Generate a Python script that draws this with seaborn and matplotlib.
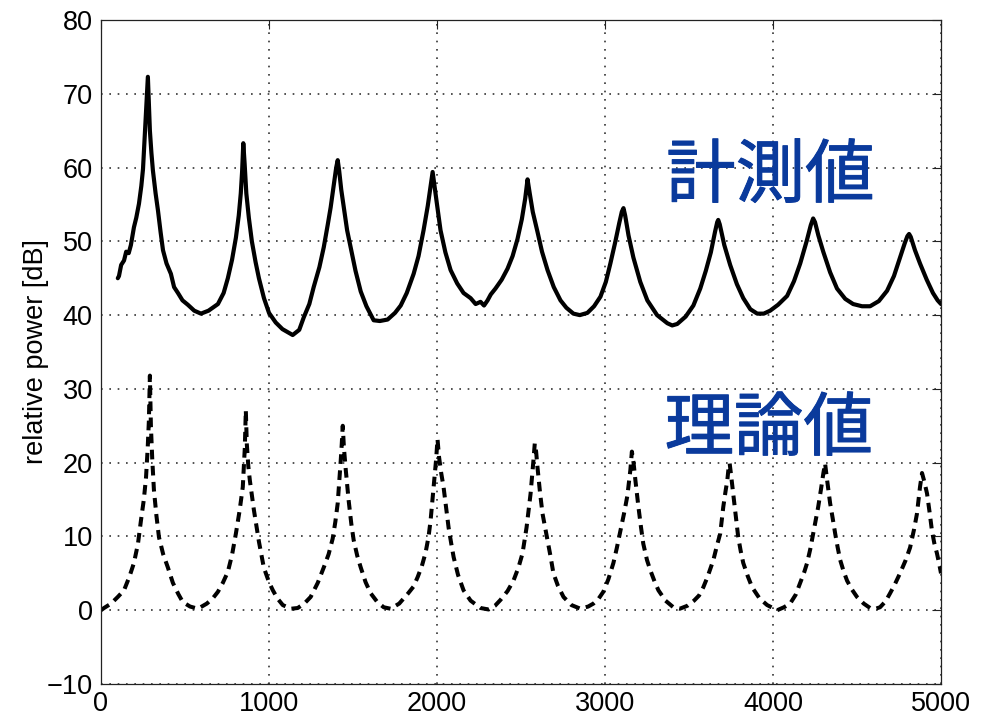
import matplotlib
matplotlib.use("Agg")
import matplotlib.pyplot as plt
import matplotlib.patheffects as pe
import seaborn as sns
import pandas as pd

# ---- data ----
meas_x = [100, 107, 120, 137, 150, 165, 178, 196, 210, 226, 240, 250, 262, 272, 279, 285, 291, 300, 309, 325,
          339, 355, 369, 390, 416, 435, 458, 485, 517, 555, 595, 640, 696, 730, 755, 780, 803, 820, 832, 840,
          847, 855, 865, 880, 898, 920, 940, 970, 1000, 1040, 1080, 1141, 1180, 1207, 1240, 1266, 1300, 1326,
          1350, 1367, 1385, 1400, 1409, 1418, 1430, 1445, 1465, 1486, 1515, 1546, 1580, 1623, 1660, 1706, 1750,
          1784, 1820, 1861, 1890, 1920, 1945, 1962, 1974, 1985, 2000, 2021, 2050, 2081, 2120, 2158, 2200, 2230,
          2259, 2280, 2301, 2320, 2348, 2385, 2420, 2450, 2479, 2505, 2525, 2539, 2552, 2570, 2598, 2625, 2658,
          2695, 2735, 2770, 2812, 2850, 2895, 2935, 2973, 3005, 3032, 3060, 3085, 3100, 3110, 3120, 3140, 3169,
          3210, 3252, 3310, 3371, 3400, 3430, 3480, 3526, 3567, 3600, 3630, 3655, 3668, 3674, 3683, 3710, 3745,
          3785, 3823, 3865, 3906, 3945, 3983, 4030, 4084, 4125, 4162, 4200, 4225, 4239, 4250, 4270, 4299, 4340,
          4381, 4430, 4477, 4530, 4578, 4630, 4679, 4720, 4756, 4785, 4800, 4810, 4820, 4845, 4875, 4915, 4952,
          4980, 5000]
meas_y = [45.0, 45.3, 46.8, 47.4, 48.6, 48.4, 49.5, 51.9, 53.2, 55.1, 57.5, 59.8, 65.0, 69.5, 72.3, 68.5, 65.0,
          62.0, 59.6, 56.5, 54.2, 51.2, 48.8, 47.0, 45.6, 43.8, 43.0, 42.0, 41.4, 40.6, 40.2, 40.6, 41.5, 43.0,
          45.0, 47.5, 50.5, 53.5, 56.5, 59.5, 63.3, 60.5, 56.5, 53.2, 50.0, 47.2, 45.0, 42.3, 40.3, 39.0, 38.1,
          37.3, 38.0, 39.7, 41.5, 43.8, 46.5, 49.2, 52.3, 54.6, 57.5, 60.0, 61.0, 59.5, 57.0, 54.6, 51.5, 49.2,
          46.0, 43.2, 41.2, 39.3, 39.2, 39.4, 40.3, 41.3, 43.0, 45.6, 48.0, 51.5, 54.8, 57.5, 59.4, 57.5, 55.0,
          51.5, 48.5, 46.1, 44.3, 43.0, 42.3, 41.5, 41.8, 41.3, 42.0, 42.8, 43.6, 44.8, 46.3, 48.0, 50.3, 53.0,
          55.8, 58.4, 56.5, 54.0, 51.3, 48.6, 46.1, 43.8, 42.0, 41.0, 40.2, 40.0, 40.3, 41.2, 42.5, 44.5, 47.0,
          49.8, 52.5, 54.0, 54.5, 53.5, 50.8, 47.8, 44.5, 42.0, 40.0, 38.9, 38.6, 38.8, 39.8, 41.3, 43.6, 46.0,
          48.5, 51.3, 52.6, 52.9, 52.3, 49.5, 46.8, 44.2, 42.3, 40.8, 40.2, 40.2, 40.6, 41.4, 42.6, 44.6, 47.0,
          50.0, 52.2, 53.1, 52.6, 50.8, 48.6, 45.8, 43.6, 42.2, 41.5, 41.2, 41.2, 41.9, 43.3, 45.3, 47.8, 49.8,
          50.7, 51.0, 50.6, 48.8, 47.0, 44.8, 43.0, 42.0, 41.5]

theo_x = [0, 18, 60, 100, 137, 170, 196, 220, 238, 255, 268, 278, 285, 291, 297, 305, 315, 330, 345, 370, 398,
          428, 460, 487, 530, 577, 630, 665, 696, 725, 755, 780, 803, 825, 844, 856, 862, 868, 877, 886, 910,
          940, 969, 1000, 1023, 1050, 1082, 1130, 1171, 1210, 1248, 1290, 1326, 1355, 1379, 1395, 1409, 1427,
          1433, 1439, 1446, 1457, 1474, 1490, 1504, 1525, 1546, 1575, 1605, 1645, 1683, 1724, 1775, 1825, 1860,
          1885, 1910, 1932, 1950, 1962, 1980, 1995, 2003, 2012, 2025, 2039, 2055, 2069, 2085, 2099, 2125, 2158,
          2200, 2259, 2307, 2345, 2378, 2420, 2455, 2485, 2509, 2533, 2557, 2574, 2582, 2590, 2598, 2613, 2628,
          2658, 2675, 2693, 2720, 2753, 2800, 2854, 2900, 2931, 2960, 2990, 3020, 3050, 3070, 3092, 3115, 3133,
          3151, 3160, 3170, 3181, 3199, 3214, 3228, 3250, 3270, 3295, 3318, 3360, 3407, 3445, 3490, 3530, 3560,
          3585, 3610, 3645, 3668, 3686, 3704, 3718, 3728, 3736, 3742, 3750, 3763, 3778, 3793, 3808, 3823, 3850,
          3876, 3920, 3965, 4025, 4065, 4102, 4135, 4162, 4185, 4203, 4222, 4239, 4255, 4269, 4285, 4300, 4310,
          4320, 4330, 4340, 4355, 4370, 4385, 4400, 4420, 4441, 4470, 4500, 4540, 4578, 4610, 4637, 4670, 4697,
          4725, 4756, 4790, 4816, 4840, 4857, 4875, 4887, 4900, 4917, 4932, 4946, 4960, 4976, 4990, 5000]
theo_y = [0.0, 0.3, 0.9, 1.8, 2.7, 4.6, 6.4, 9.0, 12.2, 15.0, 18.0, 22.0, 25.7, 31.8, 25.0, 20.5, 16.3, 12.8,
          9.9, 7.6, 5.8, 3.7, 2.2, 1.1, 0.5, 0.2, 0.9, 1.6, 2.5, 3.7, 5.2, 7.5, 10.4, 13.5, 16.7, 22.0, 27.1,
          22.5, 19.5, 17.6, 13.6, 9.3, 5.8, 3.8, 2.7, 1.6, 0.7, 0.2, 0.3, 0.9, 1.8, 3.7, 5.8, 7.6, 9.7, 12.0,
          14.5, 20.3, 22.5, 25.0, 22.0, 19.0, 14.9, 11.7, 9.5, 7.4, 5.8, 3.8, 2.3, 1.1, 0.4, 0.2, 0.9, 2.2, 3.2,
          4.5, 6.0, 7.8, 10.0, 12.2, 16.7, 20.5, 23.2, 20.8, 18.6, 16.7, 13.8, 11.2, 9.0, 7.2, 4.8, 2.7, 1.3,
          0.3, 0.1, 0.6, 1.4, 2.6, 4.0, 5.8, 7.7, 11.2, 15.8, 20.3, 22.6, 21.5, 19.4, 16.0, 13.1, 9.5, 7.4, 5.0,
          3.3, 1.8, 0.7, 0.2, 0.5, 0.9, 1.5, 2.5, 4.2, 6.4, 8.4, 10.8, 13.3, 15.5, 19.0, 21.5, 20.0, 17.6, 14.0,
          11.3, 9.0, 6.8, 5.4, 3.9, 2.7, 1.3, 0.4, 0.2, 0.6, 1.3, 2.0, 3.1, 4.5, 6.8, 8.9, 10.4, 14.0, 16.2,
          17.6, 19.4, 19.9, 18.4, 15.8, 12.7, 9.9, 8.0, 6.4, 4.6, 3.1, 1.6, 0.7, 0.0, 0.4, 0.9, 2.1, 3.7, 5.1,
          6.4, 8.3, 10.4, 12.3, 14.0, 16.3, 18.6, 19.9, 18.0, 16.3, 14.5, 12.5, 10.4, 8.5, 6.8, 5.3, 4.0, 2.8,
          1.8, 0.9, 0.3, 0.2, 0.4, 1.2, 2.3, 3.5, 5.0, 6.8, 8.5, 11.0, 13.1, 16.7, 18.6, 17.5, 15.8, 13.3, 10.8,
          9.1, 7.7, 6.2, 5.0]

x_ticks = [0, 1000, 2000, 3000, 4000, 5000]
y_ticks = [-10, 0, 10, 20, 30, 40, 50, 60, 70, 80]
y_label = "relative power [dB]"
label_measured = "計測値"
label_theory = "理論値"

# ---- styling ----
sns.set_style("white")
plt.rcParams["font.family"] = ["Liberation Sans", "DejaVu Sans"]
plt.rcParams.update({
    "xtick.direction": "in", "ytick.direction": "in",
    "xtick.top": True, "ytick.right": True,
    "xtick.major.size": 6.5, "ytick.major.size": 6.5,
    "xtick.major.width": 0.8, "ytick.major.width": 0.8,
    "axes.linewidth": 0.9, "axes.edgecolor": "#222222",
    "axes.labelcolor": "black", "text.color": "black",
})

fig = plt.figure(figsize=(9.88, 7.17), dpi=100)
ax = fig.add_axes([101 / 988, 1 - 684 / 717, 840 / 988, 664 / 717])

df_m = pd.DataFrame({"f": meas_x, "p": meas_y})
df_t = pd.DataFrame({"f": theo_x, "p": theo_y})

sns.lineplot(data=df_m, x="f", y="p", ax=ax, color="black", linewidth=3.0,
             estimator=None, sort=False, solid_joinstyle="round")
sns.lineplot(data=df_t, x="f", y="p", ax=ax, color="black", linewidth=2.9,
             estimator=None, sort=False)
ax.lines[-1].set_dashes([2.4, 1.6])

ax.set_xlim(0, 5000)
ax.set_ylim(-10, 80)
ax.set_xticks(x_ticks)
ax.set_yticks(y_ticks)
ax.set_xticklabels([str(v) for v in x_ticks])
ax.set_yticklabels([str(v).replace("-", "\u2212") for v in y_ticks])
ax.tick_params(axis="both", labelsize=19.5, colors="#222222", labelcolor="black")
ax.tick_params(axis="x", pad=5)
ax.tick_params(axis="y", pad=6)

ax.grid(True, color="#333333", linestyle=(0, (1, 4)), linewidth=1.2)
ax.set_axisbelow(True)

ax.set_xlabel("")
ax.set_ylabel(y_label, fontsize=19.5, labelpad=-2, color="black")

cjk = ["Noto Sans CJK JP", "DejaVu Sans"]
blue = "#0A3A9C"
thicken = [pe.withStroke(linewidth=0.7, foreground=blue)]
ax.text(3985, 58.7, label_measured, family=cjk, fontsize=50, fontweight="normal",
        color=blue, ha="center", va="center", path_effects=thicken)
ax.text(3975, 24.4, label_theory, family=cjk, fontsize=50, fontweight="normal",
        color=blue, ha="center", va="center", path_effects=thicken)

fig.savefig("out.png", dpi=100, facecolor="white")
